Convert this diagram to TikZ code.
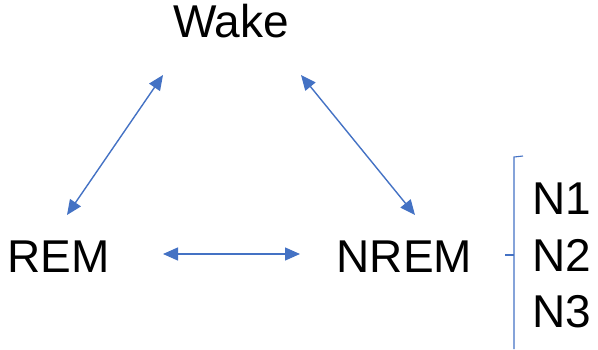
\documentclass[tikz,border=0pt]{standalone}
\usepackage{fontspec}
\setmainfont{Liberation Sans}
\usetikzlibrary{arrows.meta}
\definecolor{arrowblue}{HTML}{4472C4}
\begin{document}
\begin{tikzpicture}[x=1pt,y=-1pt,
  label/.style={anchor=base, inner sep=0pt, font=\fontsize{46}{46}\selectfont},
  conn/.style={arrowblue, line width=1.4pt, {Triangle[length=15pt,width=13pt]}-{Triangle[length=15pt,width=13pt]}},
  bracket/.style={arrowblue, line width=1.1pt}]
\useasboundingbox (0,0) rectangle (598,349);
\node[label] (wake) at (231,37) {Wake};
\node[label] (rem) at (58.5,272) {REM};
\node[label] (nrem) at (404.5,272) {NREM};
\node[label] (n1) at (562,214) {N1};
\node[label] (n2) at (562,271) {N2};
\node[label] (n3) at (562,327) {N3};
\coordinate (wr1) at (163,75);
\coordinate (wr2) at (67,215);
\coordinate (wn1) at (301,75);
\coordinate (wn2) at (415,215);
\coordinate (rn1) at (163,254);
\coordinate (rn2) at (300,254);
\draw[conn] (wr1) -- (wr2);
\draw[conn] (wn1) -- (wn2);
\draw[conn] (rn1) -- (rn2);
\coordinate (bt) at (523,156);
\coordinate (bm) at (505,255);
\coordinate (bb) at (514,349);
\draw[bracket] (bt) -- (514,157) -- (bb);
\draw[bracket] (514,255) -- (bm);
\end{tikzpicture}
\end{document}
